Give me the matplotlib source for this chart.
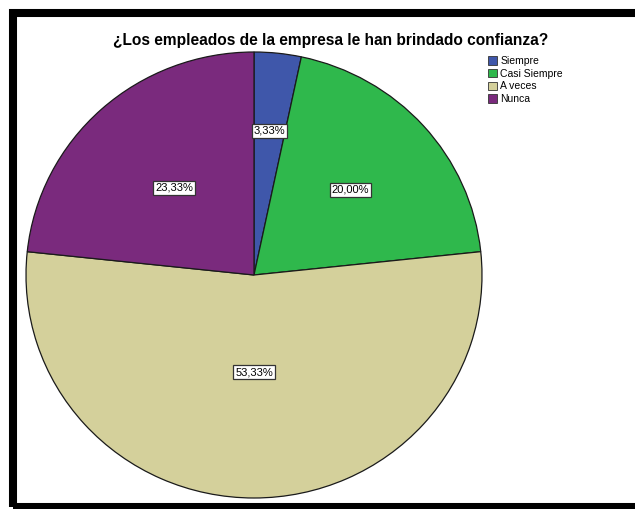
import numpy as np
import matplotlib.pyplot as plt
from matplotlib.patches import Rectangle

# respuestas sobre la confianza brindada por los empleados
categorias = ["Siempre", "Casi Siempre", "A veces", "Nunca"]
porcentajes = [3.33, 20.00, 53.33, 23.33]
colores = ["#3f57aa", "#2fb84c", "#d4d09b", "#7a2a7d"]
# distancia radial de cada etiqueta dentro de su sector
dist_etiqueta = [0.65, 0.57, 0.435, 0.525]

W, H = 635, 509
fig = plt.figure(figsize=(W / 100, H / 100), dpi=100)
plt.rcParams['font.family'] = ['Liberation Sans', 'DejaVu Sans']

# marco negro grueso
fig.patches.append(Rectangle((13 / W, 1 - 506.5 / H), 640 / W, (506.5 - 13) / H,
                             transform=fig.transFigure, fill=False,
                             edgecolor="black", linewidth=5.8))

fig.text(331 / W, 1 - 41 / H, "¿Los empleados de la empresa le han brindado confianza?",
         ha="center", va="center", fontsize=11.2, fontweight="bold")

# sector circular ligeramente ovalado
cx, cy, rx, ry = 254, 275, 228, 223
ax = fig.add_axes([(cx - rx) / W, 1 - (cy + ry) / H, 2 * rx / W, 2 * ry / H])
cunas, _ = ax.pie(porcentajes, colors=colores, startangle=90, counterclock=False,
                  wedgeprops=dict(edgecolor="#1a1a1a", linewidth=0.9))
ax.set_aspect("auto")
ax.set_xlim(-1, 1)
ax.set_ylim(-1, 1)

for cuna, valor, d in zip(cunas, porcentajes, dist_etiqueta):
    ang = np.deg2rad((cuna.theta1 + cuna.theta2) / 2)
    texto = f"{valor:.2f}%".replace(".", ",")
    ax.text(d * np.cos(ang), d * np.sin(ang), texto, ha="center", va="center",
            fontsize=8,
            bbox=dict(boxstyle="square,pad=0.15", facecolor="white",
                      edgecolor="#333333", linewidth=0.9))

leg = fig.legend(cunas, categorias, loc="upper left",
                 bbox_to_anchor=(484 / W, 1 - 52 / H), frameon=False,
                 fontsize=7.5, handlelength=0.85, handleheight=0.85,
                 handletextpad=0.3, labelspacing=0.25, borderaxespad=0)
for h in leg.legend_handles:
    h.set_edgecolor("#333333")
    h.set_linewidth(0.6)

fig.savefig("out.png", dpi=100)
